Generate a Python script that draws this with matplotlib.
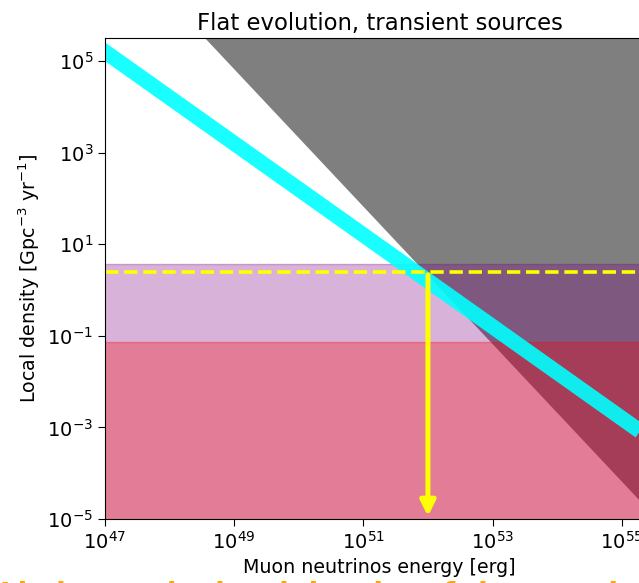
"""Flat evolution, transient sources: local density vs muon-neutrino energy."""

import matplotlib

matplotlib.use("Agg")
import matplotlib.pyplot as plt
import numpy as np

# energy grid (erg) and limits
ENERGY = np.logspace(46, 57, 200)
LOG_NORM_CYAN = 52.2      # density = 10**52.2 / E
LOG_NORM_GRAY = 78.32     # density = 10**78.32 * E**-1.5 (excluded above)
GRAY_SLOPE = -1.5
PURPLE_TOP = 3.75
RED_TOP = 0.073
DENSITY_LINE = 2.45
ARROW_ENERGY = 1e52

XLIM = (1e47, 10 ** 55.5)
YLIM = (1e-5, 10 ** 5.5)
XTICKS = [1e47, 1e49, 1e51, 1e53, 1e55]
YTICKS = [1e-5, 1e-3, 1e-1, 1e1, 1e3, 1e5]

fig = plt.figure(figsize=(6.39, 5.83), dpi=100)
ax = fig.add_axes([105 / 639, 64 / 583, 549 / 639, 481 / 583])

cyan = 10 ** LOG_NORM_CYAN / ENERGY
gray = 10 ** LOG_NORM_GRAY * ENERGY ** GRAY_SLOPE

ax.fill_between(ENERGY, gray, 1e10, color="black", alpha=0.5, linewidth=0)
ax.fill_between(ENERGY, 1e-8, PURPLE_TOP, color="purple", alpha=0.3)
ax.fill_between(ENERGY, 1e-8, RED_TOP, color="red", alpha=0.3)
ax.plot(ENERGY, cyan, color="cyan", lw=11, alpha=0.9, solid_capstyle="butt")
ax.axhline(DENSITY_LINE, color="yellow", ls="--", lw=2.6)
ax.annotate("", xy=(ARROW_ENERGY, 1e-5), xytext=(ARROW_ENERGY, DENSITY_LINE),
            arrowprops=dict(arrowstyle="-|>,head_width=0.45,head_length=0.9",
                            color="yellow", lw=3.6, mutation_scale=10))

ax.set_xscale("log")
ax.set_yscale("log")
ax.set_xlim(*XLIM)
ax.set_ylim(*YLIM)
ax.set_xticks(XTICKS)
ax.set_yticks(YTICKS)
ax.minorticks_off()
ax.tick_params(labelsize=14, length=5)
ax.set_xlabel("Muon neutrinos energy [erg]", fontsize=13.7)
ax.set_ylabel(r"Local density [Gpc$^{-3}$ yr$^{-1}$]", fontsize=13.7)
ax.set_title("Flat evolution, transient sources", fontsize=16.4)

fig.text(0.0, 1.8 / 583, "Limits on the local density of the transient neutrino sources",
         color="orange", fontsize=20, fontweight="bold", va="top", ha="left")

fig.savefig("out.png", dpi=100)
